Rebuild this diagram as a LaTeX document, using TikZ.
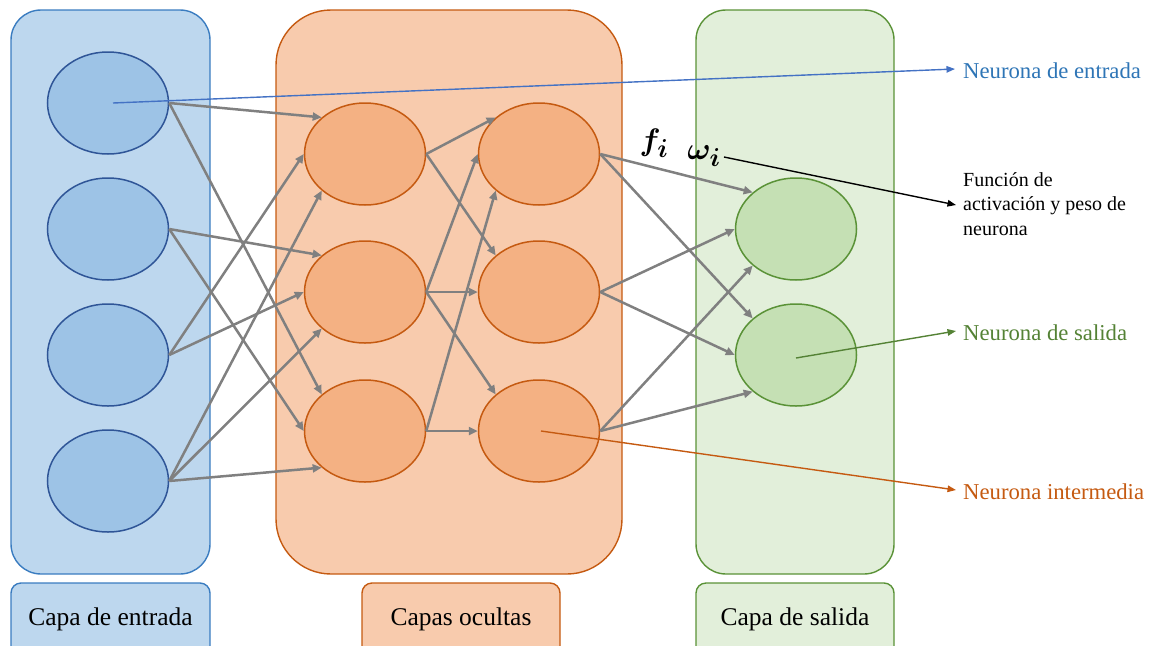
\documentclass[tikz,border=0pt]{standalone}
\usepackage{fontspec}
\setmainfont{Liberation Serif}
\newfontfamily\notefont{Liberation Serif}
\usepackage{amsmath}
\usepackage{bm}
\usetikzlibrary{arrows.meta,shapes.geometric}

\definecolor{inFill}{HTML}{BDD7EE}
\definecolor{inLine}{HTML}{3A7CC0}
\definecolor{inNodeFill}{HTML}{9DC3E6}
\definecolor{inNodeLine}{HTML}{2F5597}
\definecolor{hidFill}{HTML}{F8CBAD}
\definecolor{hidLine}{HTML}{C55A11}
\definecolor{hidNodeFill}{HTML}{F4B183}
\definecolor{outFill}{HTML}{E2EFDA}
\definecolor{outLine}{HTML}{5A9237}
\definecolor{outNodeFill}{HTML}{C5E0B4}
\definecolor{linkGray}{HTML}{808080}
\definecolor{ptrBlue}{HTML}{4472C4}
\definecolor{txtBlue}{HTML}{2E75B6}
\definecolor{txtGreen}{HTML}{548235}

\begin{document}
\begin{tikzpicture}[x=1pt,y=-1pt,
  panel/.style={draw, line width=1.4pt, inner sep=0pt, rectangle},
  neuron/.style={ellipse, draw, line width=1.5pt, inner sep=0pt,
    minimum width=121pt, minimum height=102pt},
  innode/.style={neuron, fill=inNodeFill, draw=inNodeLine},
  hidnode/.style={neuron, fill=hidNodeFill, draw=hidLine},
  outnode/.style={neuron, fill=outNodeFill, draw=outLine},
  link/.style={draw=linkGray, line width=2.5pt,
    -{Triangle[length=9pt,width=8pt]}},
  ptr/.style={line width=1.4pt, -{Triangle[length=8.5pt,width=6.5pt]}},
  tagbox/.style={panel, rounded corners=10pt, minimum height=82pt},
  tagtext/.style={font=\rmfamily\fontsize{25.5}{30}\selectfont, inner sep=0pt},
  sidetext/.style={font=\rmfamily\fontsize{22.7}{27}\selectfont, anchor=west, inner sep=1pt}
]
\useasboundingbox (0,0) rectangle (1155,645);
\clip (0,0) rectangle (1155,645);

% layer panels
\node[panel, rounded corners=30pt, fill=inFill, draw=inLine,
  minimum width=199pt, minimum height=564pt] (pin) at (110.5,292) {};
\node[panel, rounded corners=55pt, fill=hidFill, draw=hidLine,
  minimum width=346pt, minimum height=564pt] (phid) at (449,292) {};
\node[panel, rounded corners=30pt, fill=outFill, draw=outLine,
  minimum width=198pt, minimum height=564pt] (pout) at (795,292) {};

% caption boxes under the panels
\node[tagbox, fill=inFill, draw=inLine, minimum width=199pt] (bin) at (110.5,624) {};
\node[tagbox, fill=hidFill, draw=hidLine, minimum width=198pt] (bhid) at (461,624) {};
\node[tagbox, fill=outFill, draw=outLine, minimum width=198pt] (bout) at (795,624) {};
\node[tagtext] (tin) at (110.5,619.5) {Capa de entrada};
\node[tagtext] (thid) at (461,619.5) {Capas ocultas};
\node[tagtext] (tout) at (795,619.5) {Capa de salida};

% neurons
\node[innode] (i1) at (108,103) {};
\node[innode] (i2) at (108,229) {};
\node[innode] (i3) at (108,355) {};
\node[innode] (i4) at (108,481) {};

\node[hidnode] (h1) at (365,154) {};
\node[hidnode] (h2) at (365,292) {};
\node[hidnode] (h3) at (365,431) {};

\node[hidnode] (k1) at (539,154) {};
\node[hidnode] (k2) at (539,292) {};
\node[hidnode] (k3) at (539,431) {};

\node[outnode] (o1) at (796,229) {};
\node[outnode] (o2) at (796,355) {};

% input -> first hidden layer
\draw[link] (i1.east) -- (h1.north west);
\draw[link] (i1.east) -- (h3.north west);
\draw[link] (i2.east) -- (h2.north west);
\draw[link] (i2.east) -- (h3.west);
\draw[link] (i3.east) -- (h1.west);
\draw[link] (i3.east) -- (h2.west);
\draw[link] (i4.east) -- (h1.south west);
\draw[link] (i4.east) -- (h2.south west);
\draw[link] (i4.east) -- (h3.south west);

% first -> second hidden layer
\draw[link] (h1.east) -- (k1.north west);
\draw[link] (h1.east) -- (k2.north west);
\draw[link] (h2.east) -- (k1.west);
\draw[link] (h2.east) -- (k2.west);
\draw[link] (h2.east) -- (k3.north west);
\draw[link] (h3.east) -- (k1.south west);
\draw[link] (h3.east) -- (k3.west);

% second hidden layer -> output
\draw[link] (k1.east) -- (o1.north west);
\draw[link] (k1.east) -- (o2.north west);
\draw[link] (k2.east) -- (o1.west);
\draw[link] (k2.east) -- (o2.west);
\draw[link] (k3.east) -- (o1.south west);
\draw[link] (k3.east) -- (o2.south west);

% activation function and weight symbols
\node[inner sep=0pt, scale=1.25] (fi) at (654,143) {\Huge$\bm{f_i}$};
\node[inner sep=0pt, scale=1.25] (wi) at (704,156) {\Huge$\bm{\omega_i}$};

% side annotations
\node[sidetext, text=txtBlue] (lin) at (962,70.5) {Neurona de entrada};
\node[anchor=west, inner sep=1pt, align=left,
  font=\notefont\fontsize{20}{24.5}\selectfont] (lfun) at (962,204)
  {Función de\\activación y peso de\\neurona};
\node[sidetext, text=txtGreen] (lout) at (962,332.5) {Neurona de salida};
\node[sidetext, text=hidLine] (lhid) at (962,491.5) {Neurona intermedia};

\draw[ptr, ptrBlue] ([xshift=5pt]i1.center) -- ([xshift=-7pt,yshift=1.5pt]lin.west);
\draw[ptr, black] ([xshift=3pt,yshift=-1pt]wi.east) -- ([xshift=-6pt,yshift=-1pt]lfun.west);
\draw[ptr, txtGreen] ([yshift=-3pt]o2.center) -- ([xshift=-6pt,yshift=1.5pt]lout.west);
\draw[ptr, hidLine] ([xshift=2pt]k3.center) -- ([xshift=-6pt,yshift=1.5pt]lhid.west);
\end{tikzpicture}
\end{document}
